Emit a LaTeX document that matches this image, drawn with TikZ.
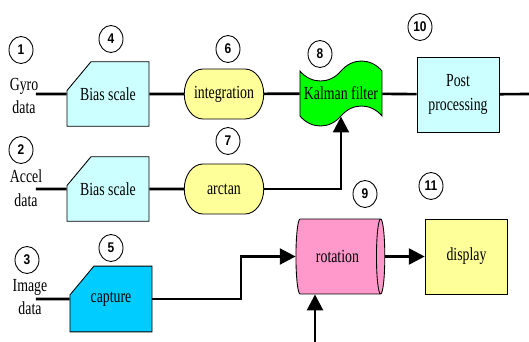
\documentclass[tikz,border=0pt]{standalone}
\usepackage{fontspec}
\setmainfont{Liberation Serif}
\newfontfamily\numfont{Liberation Sans}[FakeStretch=0.85]
\usetikzlibrary{shapes.geometric,shapes.misc,shapes.symbols,arrows.meta}

\definecolor{paleblue}{HTML}{CCFFFF}
\definecolor{paleyellow}{HTML}{FFFF99}
\definecolor{capblue}{HTML}{00CCFF}
\definecolor{rosepink}{HTML}{FF99CC}
\definecolor{kalgreen}{HTML}{00FF00}

\tikzset{
  block/.style={draw, line width=0.5pt, xscale=0.75, align=center, inner sep=1pt,
    font=\fontsize{10.5}{13.5}\selectfont},
  biasbox/.style={block, chamfered rectangle, chamfered rectangle corners=north west,
    chamfered rectangle angle=48, chamfered rectangle ysep=0.48cm,
    minimum width=2.19cm, minimum height=1.2cm},
  stepround/.style={block, rounded rectangle, fill=paleyellow,
    minimum width=2.19cm, minimum height=1cm},
  plainbox/.style={block, rectangle, minimum width=2.19cm, minimum height=1.5cm},
  inname/.style={xscale=0.75, align=center, inner sep=0pt,
    font=\fontsize{10.5}{13.5}\selectfont},
  numtag/.style={draw, ellipse, line width=0.5pt, inner sep=0pt,
    minimum width=0.48cm, minimum height=0.54cm,
    font=\numfont\bfseries\fontsize{8}{8}\selectfont},
  wire/.style={line width=1.5pt},
  feed/.style={wire, -{Triangle[length=9pt,width=9pt]}}
}

\begin{document}
\begin{tikzpicture}[x=0.02cm, y=-0.02cm]
\useasboundingbox (0,0) rectangle (529,342);

% sensor inputs
\node[inname] (gyro) at (24,96) {Gyro\\data};
\node[inname] (accel) at (26,188) {Accel\\data};
\node[inname] (image) at (30,297) {Image\\data};
\coordinate (gyroin) at (36,94);
\coordinate (accelin) at (36,189);
\coordinate (imagein) at (36,299);

% processing chain
\node[biasbox, fill=paleblue] (bias1) at (108,94) {Bias scale};
\node[biasbox, fill=paleblue] (bias2) at (108,189) {Bias scale};
\node[biasbox, fill=capblue] (cap) at (111,299) {capture};
\node[stepround] (integ) at (224,94) {integration};
\node[stepround] (arctan) at (224,189) {arctan};
\node[block, tape, fill=kalgreen, minimum width=2.19cm, minimum height=1.3cm,
  tape bend height=0.4cm] (kal) at (341,93.5) {Kalman filter};
\node[plainbox, fill=paleblue] (post) at (458,94.5) {Post\\processing};
\node[block, cylinder, fill=rosepink, aspect=0.7,
  minimum width=1.5cm, minimum height=2.37cm] (rot) at (337.5,256.5) {rotation};
\node[plainbox, fill=paleyellow, minimum width=2.21cm] (disp) at (466.5,256.5) {display};

% step numbers
\foreach \n/\x/\y in {1/21/50, 2/21/150, 3/27/260, 4/111/39, 5/111/248, 6/228/49,
    7/228/141, 8/320/54, 9/365/194, 10/420/27, 11/431/186}
  \node[numtag] (n\n) at (\x,\y) {\n};

% connections
\coordinate (jog) at (241,256.5);
\coordinate (out) at (529,94);
\coordinate (camin) at (315,342);
\draw[wire] (gyroin) -- (bias1);
\draw[wire] (bias1) -- (integ);
\draw[wire] (integ) -- (kal);
\draw[wire] (kal) -- (post);
\draw[wire] (post) -- (out);
\draw[wire] (accelin) -- (bias2);
\draw[wire] (bias2) -- (arctan);
\draw[feed] (arctan) -| (kal);
\draw[wire] (imagein) -- (cap);
\draw[feed] (cap) -| (jog) -- (rot);
\draw[feed] (rot) -- (disp);
\draw[feed] (camin) -- (camin |- rot.south);
\end{tikzpicture}
\end{document}
